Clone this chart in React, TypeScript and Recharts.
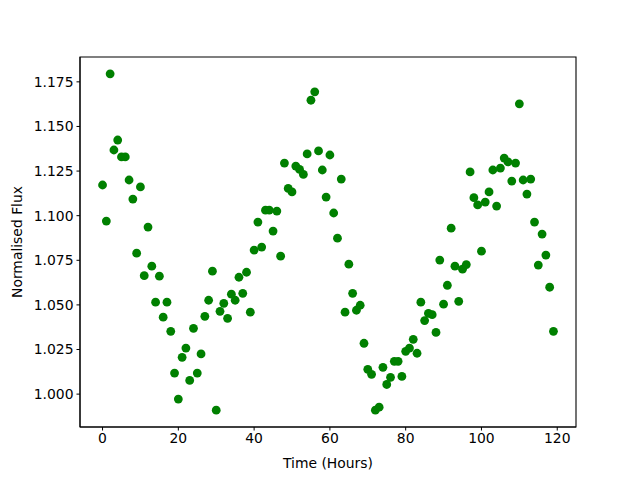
import { ScatterChart, Scatter, XAxis, YAxis, ReferenceArea } from 'recharts'

// hourly samples
const hours = [
  0, 1, 2, 3, 4, 5, 6, 7, 8, 9, 10, 11, 12, 13, 14, 15, 16, 17, 18, 19,
  20, 21, 22, 23, 24, 25, 26, 27, 28, 29, 30, 31, 32, 33, 34, 35, 36, 37, 38, 39,
  40, 41, 42, 43, 44, 45, 46, 47, 48, 49, 50, 51, 52, 53, 54, 55, 56, 57, 58, 59,
  60, 61, 62, 63, 64, 65, 66, 67, 68, 69, 70, 71, 72, 73, 74, 75, 76, 77, 78, 79,
  80, 81, 82, 83, 84, 85, 86, 87, 88, 89, 90, 91, 92, 93, 94, 95, 96, 97, 98, 99,
  100, 101, 102, 103, 104, 105, 106, 107, 108, 109, 110, 111, 112, 113, 114, 115, 116, 117, 118, 119,
]

const flux = [
  1.1172, 1.097, 1.1795, 1.1368, 1.1424, 1.1329, 1.1329, 1.12, 1.1093, 1.079,
  1.1161, 1.0664, 1.0936, 1.0717, 1.0515, 1.0661, 1.0431, 1.0515, 1.0352, 1.0118,
  0.9972, 1.0206, 1.0258, 1.0077, 1.0369, 1.0118, 1.0225, 1.0436, 1.0526, 1.0689,
  0.991, 1.0464, 1.0509, 1.0425, 1.056, 1.0526, 1.0655, 1.0565, 1.0683, 1.0459,
  1.0807, 1.0964, 1.0824, 1.1031, 1.1031, 1.0914, 1.1026, 1.0773, 1.1295, 1.1153,
  1.1133, 1.1278, 1.1259, 1.1231, 1.1346, 1.1647, 1.1694, 1.1363, 1.1256, 1.1104,
  1.134, 1.1015, 1.0874, 1.1205, 1.0459, 1.0728, 1.0565, 1.047, 1.0498, 1.0285,
  1.0139, 1.0111, 0.991, 0.9927, 1.015, 1.0054, 1.0094, 1.0184, 1.0184, 1.0099,
  1.024, 1.0258, 1.0307, 1.0229, 1.0515, 1.0412, 1.0453, 1.0445, 1.0346, 1.0751,
  1.0504, 1.061, 1.093, 1.0717, 1.052, 1.07, 1.0726, 1.1245, 1.1101, 1.106,
  1.0801, 1.1076, 1.1133, 1.1256, 1.1054, 1.1267, 1.1323, 1.1301, 1.1194, 1.1295,
  1.1627, 1.12, 1.1121, 1.1205, 1.0964, 1.0723, 1.0897, 1.0779, 1.0599, 1.0352,
]

const xTicks = [0, 20, 40, 60, 80, 100, 120]
const yTicks = [1.0, 1.025, 1.05, 1.075, 1.1, 1.125, 1.15, 1.175]

const data = hours.map((t, i) => ({ t, flux: flux[i] }))

const xDomain: [number, number] = [-5.95, 124.95]
const yDomain: [number, number] = [0.981575, 1.188925]

const font = 'DejaVu Sans, sans-serif'
const tickStyle = { fill: '#000', fontSize: 13.9, fontFamily: font }

const Dot = (props: any) => <circle cx={props.cx} cy={props.cy} r={4.4} fill="#008000" />

export default function App() {
  return (
    <div style={{ position: 'absolute', left: 0, top: 0, background: '#fff' }}>
      <ScatterChart width={640} height={480} margin={{ top: 57, right: 64, bottom: 0, left: 0 }}>
        <XAxis
          type="number"
          dataKey="t"
          domain={xDomain}
          ticks={xTicks}
          allowDataOverflow
          height={53}
          stroke="#000"
          tickSize={3.5}
          tickMargin={3}
          tick={tickStyle}
          label={{ value: 'Time (Hours)', position: 'insideBottom', offset: 12, fill: '#000', fontSize: 13.9, fontFamily: font }}
        />
        <YAxis
          type="number"
          dataKey="flux"
          domain={yDomain}
          ticks={yTicks}
          allowDataOverflow
          width={80}
          stroke="#000"
          tickSize={3.5}
          tickMargin={3}
          tick={tickStyle}
          tickFormatter={(v: number) => v.toFixed(3)}
          label={{
            value: 'Normalised Flux',
            angle: -90,
            position: 'insideLeft',
            offset: 17,
            fill: '#000',
            fontSize: 13.9,
            fontFamily: font,
            style: { textAnchor: 'middle' },
          }}
        />
        <ReferenceArea
          x1={xDomain[0]}
          x2={xDomain[1]}
          y1={yDomain[0]}
          y2={yDomain[1]}
          fill="none"
          stroke="#000"
          strokeWidth={1.1}
        />
        <Scatter data={data} shape={Dot} isAnimationActive={false} />
      </ScatterChart>
    </div>
  )
}
